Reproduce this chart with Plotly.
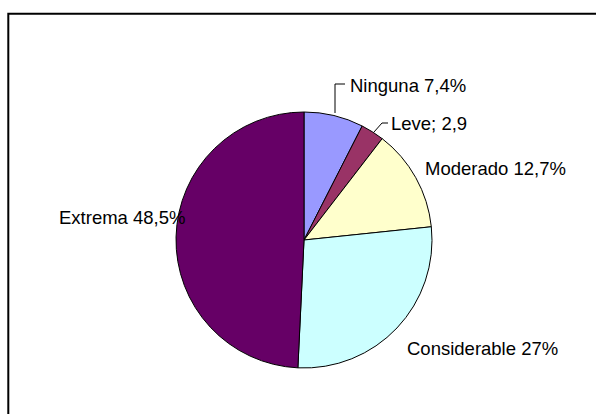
import plotly.graph_objects as go

W, H = 596, 414

# Data
categories = ["Ninguna", "Leve", "Moderado", "Considerable", "Extrema"]
values = [7.4, 2.9, 12.7, 27, 48.5]
label_text = ["Ninguna 7,4%", "Leve; 2,9", "Moderado 12,7%", "Considerable 27%", "Extrema 48,5%"]
colors = ["#9999FF", "#993366", "#FFFFCC", "#CCFFFF", "#660066"]

# layout helpers (pixels in the 596x414 frame)
cx, cy, r = 304, 240, 128
label_pos = [(348, 85), (389, 123), (423, 168), (405, 348), (57, 217)]

def px(x):
    return x / W

def py(y):
    return 1 - y / H

fig = go.Figure(go.Pie(
    labels=categories,
    values=values,
    sort=False,
    direction="clockwise",
    rotation=0,
    textinfo="none",
    hoverinfo="label+value",
    marker=dict(colors=colors, line=dict(color="black", width=1)),
    domain=dict(x=[px(cx - r), px(cx + r)], y=[py(cy + r), py(cy - r)]),
    showlegend=False,
))

annotations = []
for txt, (x, y) in zip(label_text, label_pos):
    annotations.append(dict(
        text=txt, x=px(x), y=py(y), xref="paper", yref="paper",
        xanchor="left", yanchor="middle", showarrow=False,
        font=dict(family="Liberation Sans, Arial, sans-serif", size=18.5, color="black"),
    ))

shapes = [
    # chart-area border (extends past right and bottom edges)
    dict(type="rect", xref="paper", yref="paper",
         x0=px(8.3), x1=1.2, y0=-0.2, y1=py(13.7),
         line=dict(color="black", width=2), fillcolor="rgba(0,0,0,0)"),
    # leader lines
    dict(type="path", xref="paper", yref="paper",
         path=f"M {px(335)},{py(113)} L {px(335)},{py(84)} L {px(345)},{py(84)}",
         line=dict(color="black", width=1)),
    dict(type="path", xref="paper", yref="paper",
         path=f"M {px(374)},{py(132)} L {px(382)},{py(123)} L {px(388)},{py(123)}",
         line=dict(color="black", width=1)),
]

fig.update_layout(
    width=W, height=H,
    margin=dict(l=0, r=0, t=0, b=0),
    paper_bgcolor="white", plot_bgcolor="white",
    annotations=annotations,
    shapes=shapes,
)

fig.write_html(
    "out.html",
    config={"displayModeBar": False},
    post_script="document.body.style.margin='0px';document.body.style.overflow='hidden';",
)
